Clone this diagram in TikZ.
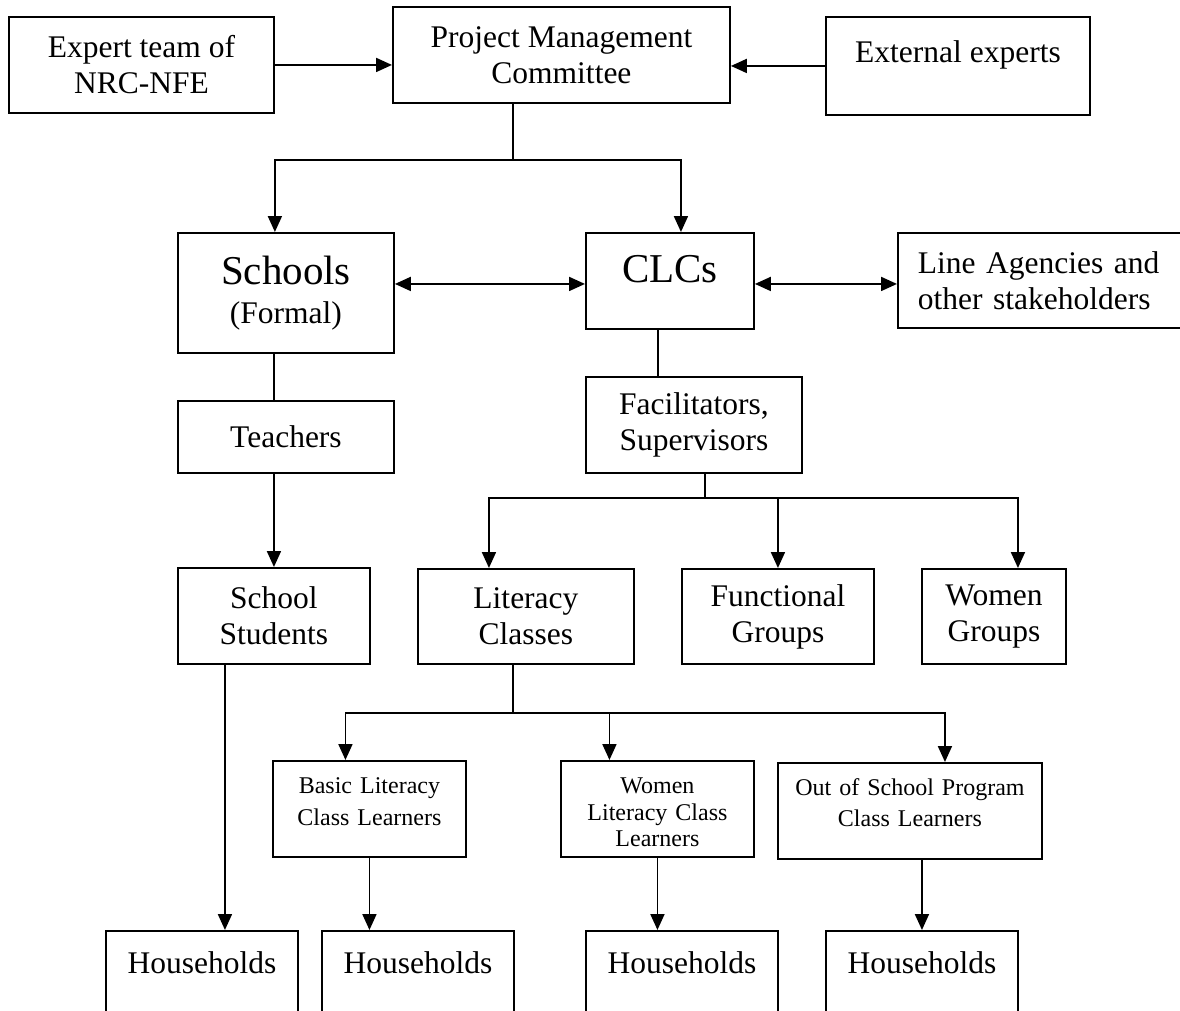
\documentclass[tikz,border=0pt]{standalone}
\usepackage{fontspec}
\setmainfont{Liberation Serif}
\usetikzlibrary{positioning}
\usetikzlibrary{arrows.meta}

\begin{document}
\begin{tikzpicture}[
  x=1pt, y=1pt,
  line width=1.9pt,
  >={Triangle[length=16pt,width=14pt]},
  orgbox/.style={draw,align=center,inner sep=0pt,anchor=north west,font=\fontsize{31.5}{36}\selectfont},
  smallbox/.style={draw,align=center,inner sep=0pt,anchor=north west,minimum height=96pt,font=\fontsize{24}{32}\selectfont},
  housebox/.style={draw,inner sep=0pt,anchor=north west,minimum width=192pt,text height=43pt,text depth=90pt,font=\fontsize{31.5}{36}\selectfont}
]

\useasboundingbox (0,0) rectangle (1180,-1010);
\clip (0,0) rectangle (1180,-1010);

\node[orgbox, minimum width=265pt, minimum height=96pt] (expert) at (8,-16) {Expert team of\\NRC-NFE};
\node[orgbox, minimum width=337pt, minimum height=96pt] (project) at (392,-6) {Project Management\\Committee};
\node[orgbox, minimum width=264pt, text height=46pt, text depth=52pt] (external) at (825,-16) {External experts};

\node[orgbox, minimum width=216pt, minimum height=120pt] (schools) at (177,-232) {{\fontsize{41}{45}\selectfont Schools}\\[3pt](Formal)};
\node[orgbox, minimum width=168pt, text height=50pt, text depth=46pt] (clcs) at (585,-232) {{\fontsize{41}{45}\selectfont CLCs}};
\node[orgbox, align=left, text width=260pt, inner xsep=20pt, minimum height=95pt] (lineag) at (897,-232) {Line Agencies and\\other stakeholders};

\node[orgbox, minimum width=216pt, minimum height=72pt] (teachers) at (177,-400) {Teachers};
\node[orgbox, minimum width=216pt, minimum height=96pt] (facil) at (585,-376) {Facilitators,\\Supervisors};

\node[orgbox, minimum width=192pt, minimum height=96pt] (students) at (177,-567) {School\\Students};
\node[orgbox, minimum width=216pt, minimum height=95pt] (litclass) at (417,-568) {Literacy\\Classes};
\node[orgbox, minimum width=192pt, minimum height=95pt] (functional) at (681,-568) {Functional\\Groups};
\node[orgbox, minimum width=144pt, minimum height=95pt] (womengrp) at (921,-568) {Women\\Groups};

\node[smallbox, text width=193pt, text height=33pt, text depth=63pt] (basiclit) at (272,-760) {Basic Literacy\\Class Learners};
\node[smallbox, text width=193pt, text height=33pt, text depth=63pt, font=\fontsize{24}{26.5}\selectfont] (womenlit) at (560,-760) {Women\\Literacy Class\\Learners};
\node[smallbox, text width=264pt, text height=33pt, text depth=63pt, font=\fontsize{24}{31}\selectfont] (outschool) at (777,-762) {Out of School Program\\Class Learners};

\node[housebox] (house1) at (105,-930) {Households};
\node[housebox] (house2) at (321,-930) {Households};
\node[housebox] (house3) at (585,-930) {Households};
\node[housebox] (house4) at (825,-930) {Households};

\coordinate (pmcsplit) at (513,-160);
\coordinate (facsplit) at (705,-498);
\coordinate (litsplit) at (513,-713);

\draw[->] (expert.east) -- (expert.east -| project.west);
\draw[->] (external.west) -- (external.west -| project.east);

\draw (project.south -| pmcsplit) -- (pmcsplit);
\draw[->] (pmcsplit) -| (schools.north -| expert.east);
\draw[->] (pmcsplit) -| ([xshift=11pt]clcs.north);

\draw[<->] ([yshift=9pt]schools.east) -- ([yshift=9pt]schools.east -| clcs.west);
\draw[<->] ([yshift=-3pt]clcs.east) -- ([yshift=-3pt]clcs.east -| lineag.west);

\draw ([xshift=-12pt]schools.south) -- ([xshift=-12pt]schools.south |- teachers.north);
\draw[->] ([xshift=-12pt]teachers.south) -- ([xshift=-12pt]teachers.south |- students.north);
\draw[->] ([xshift=-49pt]students.south) -- ([xshift=-49pt]students.south |- house1.north);

\draw ([xshift=-12pt]clcs.south) -- ([xshift=-12pt]clcs.south |- facil.north);
\draw (facil.south -| facsplit) -- (facsplit);
\draw[->] (facsplit) -| ([xshift=-37pt]litclass.north);
\draw[->] (facsplit) -| (functional.north);
\draw[->] (facsplit) -| ([xshift=24pt]womengrp.north);

\draw (litclass.south -| litsplit) -- (litsplit);
\draw[->] (litsplit) -| ([xshift=-24pt]basiclit.north);
\draw[->] (litsplit) -| ([xshift=-48pt]womenlit.north);
\draw[->] (litsplit) -| ([xshift=35pt]outschool.north);

\draw[->] (basiclit.south) -- (basiclit.south |- house2.north);
\draw[->] (womenlit.south) -- (womenlit.south |- house3.north);
\draw[->] (outschool.south -| house4.north) -- (house4.north);

\end{tikzpicture}
\end{document}
